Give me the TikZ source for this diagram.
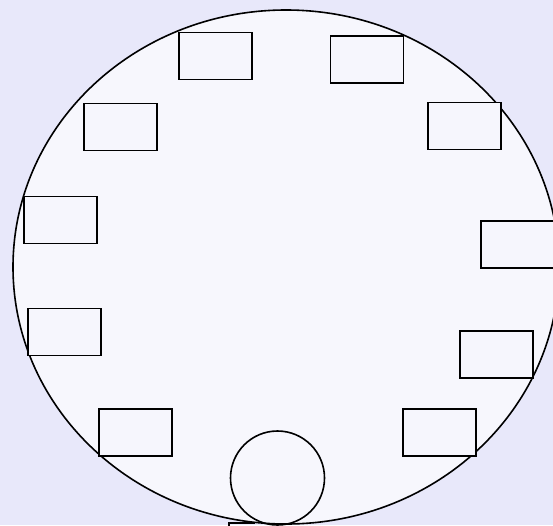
\documentclass[tikz,border=0pt]{standalone}
\usepackage{tikz}
\usepackage{xcolor}

\definecolor{paper}{RGB}{232,232,250}

\tikzset{
  slot/.style={draw, rectangle, line width=1.7pt, fill=white!60!paper,
    minimum width=73pt, minimum height=47pt, inner sep=0pt},
  rim/.style={line width=1.6pt}
}

\begin{document}
\begin{tikzpicture}[x=1pt, y=-1pt]
    % Frame and background
    \useasboundingbox (0,0) rectangle (553,525);
    \clip (0,0) rectangle (553,525);
    \fill[paper] (0,0) rectangle (553,525);
    \fill[white!65!paper] (286,267) ellipse (273 and 257);

    % Outer rim
    \draw[rim] (286,267) ellipse (273 and 257);

    % Slots, clockwise from the top
    \node[slot] (s1) at (215.5,56) {};
    \node[slot] (s2) at (367,59.5) {};
    \node[slot] (s4) at (464.5,126) {};
    \node[slot] (s6) at (517.5,244.5) {};
    \node[slot] (s8) at (496.5,354.5) {};
    \node[slot] (s10) at (439.5,432.5) {};
    \node[slot] (s9) at (135.5,432.5) {};
    \node[slot] (s7) at (64.5,332) {};
    \node[slot] (s5) at (60.5,220) {};
    \node[slot] (s3) at (120.5,127) {};

    % Hub at the bottom
    \node[draw, circle, line width=1.6pt, minimum size=94pt, inner sep=0pt] (hub) at (277.5,478) {};

    % Cut-off corner below the rim
    \draw[line width=1.2pt] (229,527) -- (229,523) -- (255,523);
\end{tikzpicture}
\end{document}
